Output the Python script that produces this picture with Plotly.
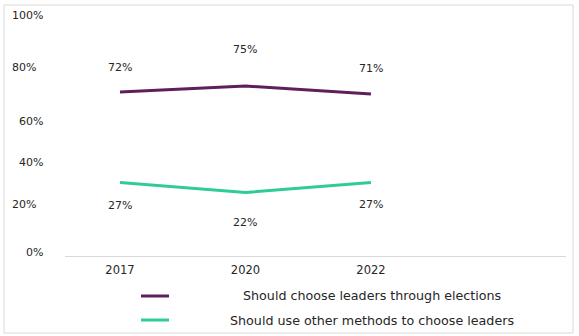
import plotly.graph_objects as go

# ---- data ----
years = ["2017", "2020", "2022"]
elections = [72, 75, 71]
other_methods = [27, 22, 27]
series_names = ["Should choose leaders through elections",
                "Should use other methods to choose leaders"]
colors = ["#5E1F5C", "#2FCB9B"]

# y-axis labels (text boxes in the original; placed where they sit)
y_tick_text = ["100%", "80%", "60%", "40%", "20%", "0%"]
y_tick_pos = [110.3, 84.0, 57.1, 36.7, 15.8, -8.1]
y_tick_shift = [-20, -27, -20, -20, -27, -20]

# data label offsets (pixels)
elec_label_shift = [25, 36, 26]
other_label_shift = [-23, -30, -22]

FONT = "DejaVu Sans"
TXT = "#262626"

xi = list(range(len(years)))

fig = go.Figure()
for vals, c in zip([elections, other_methods], colors):
    fig.add_trace(go.Scatter(x=xi, y=vals, mode="lines",
                             line=dict(color=c, width=3),
                             showlegend=False, hoverinfo="skip"))

ann = []
for vals, shifts in [(elections, elec_label_shift), (other_methods, other_label_shift)]:
    for x, v, s in zip(xi, vals, shifts):
        ann.append(dict(x=x, y=v, xref="x", yref="y", text=f"{v}%",
                        showarrow=False, yshift=s,
                        font=dict(family=FONT, size=11, color=TXT)))

for t, p, s in zip(y_tick_text, y_tick_pos, y_tick_shift):
    ann.append(dict(x=0, y=p, xref="paper", yref="y", text=t, showarrow=False,
                    xanchor="right", xshift=s,
                    font=dict(family=FONT, size=11, color=TXT)))

# manual legend (centered text like the original)
leg_y = [-0.1626, -0.2602]
shapes = []
for name, c, ly in zip(series_names, colors, leg_y):
    shapes.append(dict(type="line", xref="paper", yref="paper",
                       x0=0.1517, x1=0.2076, y0=ly, y1=ly,
                       line=dict(color=c, width=3)))
    ann.append(dict(x=0.6128, y=ly, xref="paper", yref="paper", text=name,
                    showarrow=False, xanchor="center", yanchor="middle",
                    font=dict(family=FONT, size=12.7, color=TXT)))

# outer frame
shapes.append(dict(type="rect", xref="paper", yref="paper",
                   x0=-0.1218, x1=1.014, y0=-0.313, y1=1.0203,
                   line=dict(color="#D9D9D9", width=1), layer="below"))

fig.update_layout(
    width=579, height=336,
    margin=dict(l=65, r=13, t=10, b=80),
    paper_bgcolor="white", plot_bgcolor="white",
    annotations=ann, shapes=shapes,
    xaxis=dict(range=[-0.438, 3.554], tickvals=xi, ticktext=years,
               showgrid=False, zeroline=False, showline=True,
               linecolor="#D9D9D9", linewidth=1, ticks="",
               ticklabelstandoff=3,
               tickfont=dict(family=FONT, size=11.5, color=TXT), fixedrange=True),
    yaxis=dict(range=[-9.6, 112.8], showgrid=False, zeroline=False,
               showticklabels=False, showline=False, fixedrange=True),
)

fig.write_html("out.html")
